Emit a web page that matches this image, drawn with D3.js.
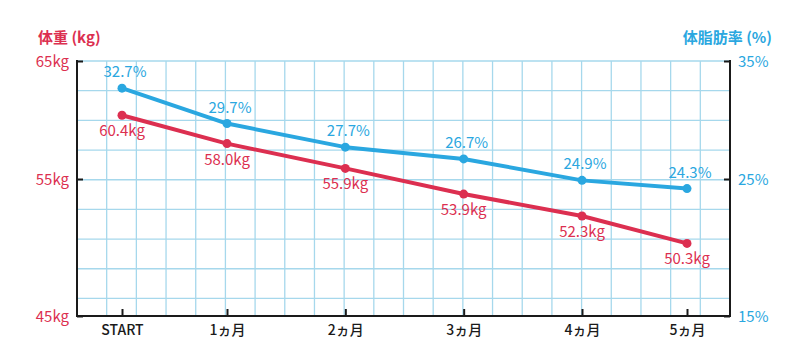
<!DOCTYPE html>
<html>
<head>
<meta charset="utf-8">
<script src="https://cdn.jsdelivr.net/npm/d3@7"></script>
<style>
  html, body { margin: 0; padding: 0; background: #fff; }
  svg { display: block; font-family: "Noto Sans CJK JP", "Noto Sans", sans-serif; }
</style>
</head>
<body>
<svg id="chart" width="800" height="364"></svg>
<script>
const categories = ["START", "1ヵ月", "2ヵ月", "3ヵ月", "4ヵ月", "5ヵ月"];
const weightKg = [60.4, 58.0, 55.9, 53.9, 52.3, 50.3];
const bodyFatPct = [32.7, 29.7, 27.7, 26.7, 24.9, 24.3];
const weightTicks = [45, 55, 65];
const fatTicks = [15, 25, 35];
const weightTitle = "体重 (kg)";
const fatTitle = "体脂肪率 (%)";

const RED = "#dc2f50";
const BLUE = "#2aa7e0";
const GRID = "#a6d8ec";
const AXIS = "#1a1a1a";

const svg = d3.select("#chart");
const L = 77, R = 730, T = 61, B = 316;

// x positions (reference chart spaces months unevenly)
const x = d3.scaleLinear().domain([0, 1, 4, 5]).range([122, 227, 582, 687]);
const yL = d3.scaleLinear().domain([45, 55, 65]).range([B, 179, T]);
const yR = d3.scaleLinear().domain([15, 25, 35]).range([B, 179, T]);

// graph-paper grid
const cell = (R - L) / 22;
const grid = svg.append("g").attr("stroke", GRID).attr("stroke-width", 1.3);
grid.selectAll("line.v").data(d3.range(1, 22)).join("line")
  .attr("x1", k => L + k * cell).attr("x2", k => L + k * cell)
  .attr("y1", T).attr("y2", B);
grid.selectAll("line.h").data(d3.range(0, 9)).join("line")
  .attr("y1", k => T + k * cell).attr("y2", k => T + k * cell)
  .attr("x1", L).attr("x2", R);

// axes
function styleAxis(g, color, size) {
  g.select(".domain").remove();
  g.selectAll(".tick line").attr("stroke", AXIS).attr("stroke-width", 2);
  g.selectAll(".tick text").attr("fill", color).attr("font-size", size)
    .attr("font-family", "\"Noto Sans CJK JP\", sans-serif");
}
const gL = svg.append("g").attr("transform", `translate(${L},0)`)
  .call(d3.axisLeft(yL).tickValues(weightTicks).tickSizeInner(-6).tickSizeOuter(0)
    .tickPadding(8).tickFormat(d => d + "kg"));
styleAxis(gL, RED, 15);
gL.selectAll(".tick text").attr("dy", "0.38em");

const gR = svg.append("g").attr("transform", `translate(${R},0)`)
  .call(d3.axisRight(yR).tickValues(fatTicks).tickSizeInner(-6).tickSizeOuter(0)
    .tickPadding(8).tickFormat(d => d + "%"));
styleAxis(gR, BLUE, 15);
gR.selectAll(".tick text").attr("dy", "0.38em");

const gB = svg.append("g").attr("transform", `translate(0,${B})`)
  .call(d3.axisBottom(x).tickValues(d3.range(categories.length)).tickSizeInner(-7)
    .tickSizeOuter(0).tickPadding(9).tickFormat(i => categories[i]));
styleAxis(gB, "#1a1a1a", 14);
gB.selectAll(".tick text").attr("font-weight", 500);

// axis lines
const axisLines = svg.append("g").attr("stroke", AXIS).attr("stroke-width", 2).attr("fill", "none");
axisLines.append("path").attr("d", `M${L},${T - 1}V${B}H${R}V${T - 1}`);

// series
function drawSeries(values, yScale, color) {
  const line = d3.line().x((d, i) => x(i)).y(d => yScale(d));
  svg.append("path").datum(values).attr("d", line)
    .attr("fill", "none").attr("stroke", color).attr("stroke-width", 4)
    .attr("stroke-linejoin", "round").attr("stroke-linecap", "round");
  svg.append("g").selectAll("circle").data(values).join("circle")
    .attr("cx", (d, i) => x(i)).attr("cy", d => yScale(d)).attr("r", 4.5)
    .attr("fill", color);
}
drawSeries(weightKg, yL, RED);
drawSeries(bodyFatPct, yR, BLUE);

// value labels
svg.append("g").selectAll("text").data(weightKg).join("text")
  .attr("x", (d, i) => x(i)).attr("y", d => yL(d) + 21)
  .attr("text-anchor", "middle").attr("fill", RED).attr("font-size", 15)
  .text(d => d.toFixed(1) + "kg");
svg.append("g").selectAll("text").data(bodyFatPct).join("text")
  .attr("x", (d, i) => x(i) + 3).attr("y", d => yR(d) - 11)
  .attr("text-anchor", "middle").attr("fill", BLUE).attr("font-size", 15)
  .text(d => d.toFixed(1) + "%");

// axis titles
svg.append("text").attr("x", 38).attr("y", 43).attr("fill", RED)
  .attr("font-size", 15).attr("font-weight", 700).text(weightTitle);
svg.append("text").attr("x", 772).attr("y", 43).attr("text-anchor", "end").attr("fill", BLUE)
  .attr("font-size", 15).attr("font-weight", 700).text(fatTitle);
</script>
</body>
</html>
